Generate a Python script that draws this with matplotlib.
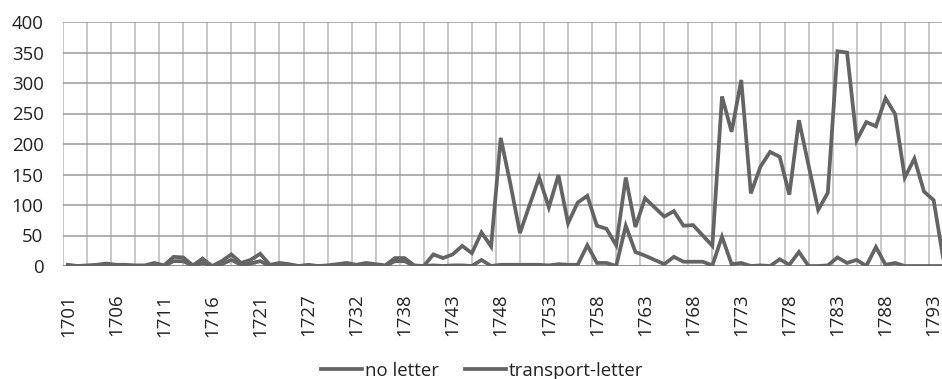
import numpy as np
import matplotlib
matplotlib.use('Agg')
import matplotlib.pyplot as plt

plt.rcParams['font.family'] = ['Open Sans', 'DejaVu Sans']

# year categories (two years are absent from the source series)
years = (list(range(1701, 1724)) + [1725, 1726, 1727, 1728, 1729, 1730, 1731, 1732,
         1733, 1734, 1736, 1737, 1738] + list(range(1739, 1795)))

no_letter = [2, 0, 1, 2, 4, 2, 2, 1, 1, 5, 1, 15, 14, 1, 12, 0, 8, 19, 5, 10,
             20, 2, 5, 3, 0, 2, 0, 1, 3, 5, 2, 5, 3, 1, 13, 13, 1, 0, 19, 13,
             19, 33, 21, 55, 32, 210, 135, 54, 100, 145, 96, 149, 70, 104, 115, 66, 61, 34, 145, 64,
             111, 96, 81, 90, 66, 67, 50, 33, 278, 220, 305, 119, 163, 187, 179, 117, 239, 165, 92, 120,
             352, 350, 206, 236, 229, 275, 249, 145, 176, 122, 108, 12]

transport_letter = [0, 0, 0, 0, 1, 0, 0, 0, 0, 1, 0, 8, 8, 0, 5, 0, 3, 10, 2, 4,
                    8, 0, 2, 1, 0, 0, 0, 0, 1, 2, 0, 2, 1, 0, 8, 8, 0, 0, 1, 0,
                    1, 1, 0, 10, 0, 2, 2, 2, 2, 2, 1, 3, 2, 2, 34, 5, 5, 0, 66, 23,
                    17, 10, 3, 15, 7, 7, 7, 1, 48, 3, 5, 0, 1, 0, 11, 2, 23, 0, 0, 1,
                    14, 5, 10, 0, 31, 2, 5, 0, 0, 0, 0, 0]

x = np.arange(len(years))

fig = plt.figure(figsize=(9.42, 3.79), dpi=100)
ax = fig.add_axes([63 / 942, 113 / 379, 879 / 942, 244 / 379])

line_col = '#646464'
ax.plot(x, no_letter, color=line_col, lw=2.7, label='no letter', solid_joinstyle='miter')
ax.plot(x, transport_letter, color=line_col, lw=2.7, label='transport-letter', solid_joinstyle='miter')

ax.set_xlim(-0.5, 90.87)
ax.set_ylim(0, 400)

# gridlines
for gx in np.arange(-0.5, 91, 2.5):
    ax.axvline(gx, color='#c4c4c4', lw=1.3, zorder=0)
for gy in range(50, 401, 50):
    ax.axhline(gy, color='#9a9a9a', lw=1.1, zorder=0)
ax.axhline(0, color='#858585', lw=1.3, zorder=1)

for s in ax.spines.values():
    s.set_visible(False)

ax.set_yticks(range(0, 401, 50))
ax.set_xticks(x[::5])
ax.set_xticklabels([str(y) for y in years[::5]], rotation=90)
ax.tick_params(axis='y', length=0, pad=14, labelsize=13.4, labelcolor='#222222')
ax.tick_params(axis='x', length=0, pad=20, labelsize=13.4, labelcolor='#222222')

fig.legend(loc='center', bbox_to_anchor=(482 / 942, 1 - 371 / 379), ncol=2, frameon=False,
           fontsize=13.4, handlelength=2.2, handletextpad=0.15, columnspacing=1.4,
           labelcolor='#222222')

fig.savefig('out.png', dpi=100)
